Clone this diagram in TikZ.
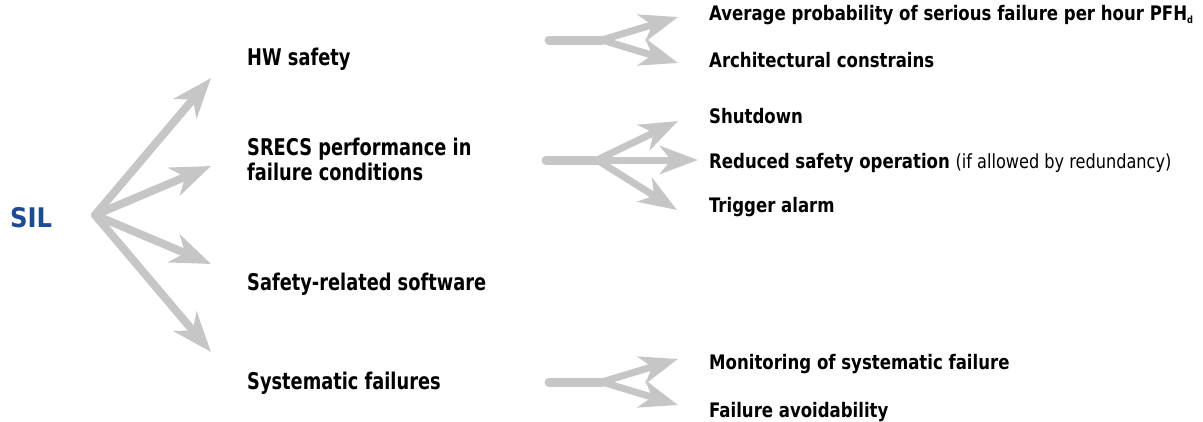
\documentclass[tikz,border=0pt]{standalone}
\usepackage{fontspec}
\setmainfont{DejaVu Sans Condensed}[FakeStretch=0.86]
\newfontfamily\silfont{DejaVu Sans Condensed}
\newfontfamily\subfont{DejaVu Sans Condensed}[FakeStretch=0.92]
\usetikzlibrary{arrows.meta}
\definecolor{arrowgray}{RGB}{198,198,198}
\definecolor{silblue}{RGB}{28,74,148}
\tikzset{
  lbl/.style={anchor=base west, inner sep=0pt, font=\fontsize{23}{24.5}\selectfont\bfseries},
  sublbl/.style={anchor=base west, inner sep=0pt, font=\subfont\fontsize{20}{22}\selectfont\bfseries},
  bigarrow/.style={draw=arrowgray, line width=8pt, line cap=round,
     -{Stealth[length=40pt, width=30pt, inset=12pt]}},
  smallarrow/.style={draw=arrowgray, line width=7pt, line cap=round, line join=round,
     -{Stealth[length=38pt, width=28pt, inset=11pt]}},
  trunk/.style={draw=arrowgray, line width=9pt, line cap=round}
}
\begin{document}
\begin{tikzpicture}[x=1pt,y=-1pt]
\useasboundingbox (0,0) rectangle (1203,421);
% SIL
\node[anchor=base west, inner sep=0pt, text=silblue] (sil) at (10,227) {\silfont\fontsize{27}{27}\selectfont\bfseries SIL};
\coordinate (o) at (95,215);
\coordinate (t1) at (211,78);
\coordinate (t2) at (211,166);
\coordinate (t3) at (211,264);
\coordinate (t4) at (211,352);
\draw[bigarrow] (o) -- (t1);
\draw[bigarrow] (o) -- (t2);
\draw[bigarrow] (o) -- (t3);
\draw[bigarrow] (o) -- (t4);
% middle labels
\node[lbl] (hw) at (247,65) {HW safety};
\node[lbl, align=left] (srecs) at (247,180) {SRECS performance in\\failure conditions};
\node[lbl] (sw) at (247,290) {Safety-related software};
\node[lbl] (sys) at (247,389) {Systematic failures};
% group 1
\coordinate (g1s) at (549,40);
\coordinate (g1m) at (602,40);
\coordinate (g1a) at (678,17);
\coordinate (g1b) at (678,63);
\draw[trunk] (g1s) -- (g1m);
\draw[smallarrow] (g1m) -- (g1a);
\draw[smallarrow] (g1m) -- (g1b);
\node[sublbl] (pfh) at (709,20) {Average probability of serious failure per hour PFH\raisebox{-3pt}{\fontsize{10}{10}\selectfont d}};
\node[sublbl] (arch) at (709,67) {Architectural constrains};
% group 2
\coordinate (g2s) at (546,160);
\coordinate (g2m) at (597,160);
\coordinate (g2a) at (678,121);
\coordinate (g2b) at (698,160);
\coordinate (g2c) at (677,210);
\draw[trunk] (g2s) -- (g2m);
\draw[smallarrow] (g2m) -- (g2a);
\draw[smallarrow] (g2m) -- (g2b);
\draw[smallarrow] (g2m) -- (g2c);
\node[sublbl] (shut) at (709,123) {Shutdown};
\node[sublbl] (red) at (709,168) {Reduced safety operation {\mdseries\fontsize{19.5}{22}\selectfont (if allowed by redundancy)}};
\node[sublbl] (trig) at (709,212) {Trigger alarm};
% group 3
\coordinate (g3s) at (549,382);
\coordinate (g3m) at (602,382);
\coordinate (g3a) at (678,359);
\coordinate (g3b) at (678,405);
\draw[trunk] (g3s) -- (g3m);
\draw[smallarrow] (g3m) -- (g3a);
\draw[smallarrow] (g3m) -- (g3b);
\node[sublbl] (mon) at (709,369) {Monitoring of systematic failure};
\node[sublbl] (avoid) at (709,417) {Failure avoidability};
\end{tikzpicture}
\end{document}
